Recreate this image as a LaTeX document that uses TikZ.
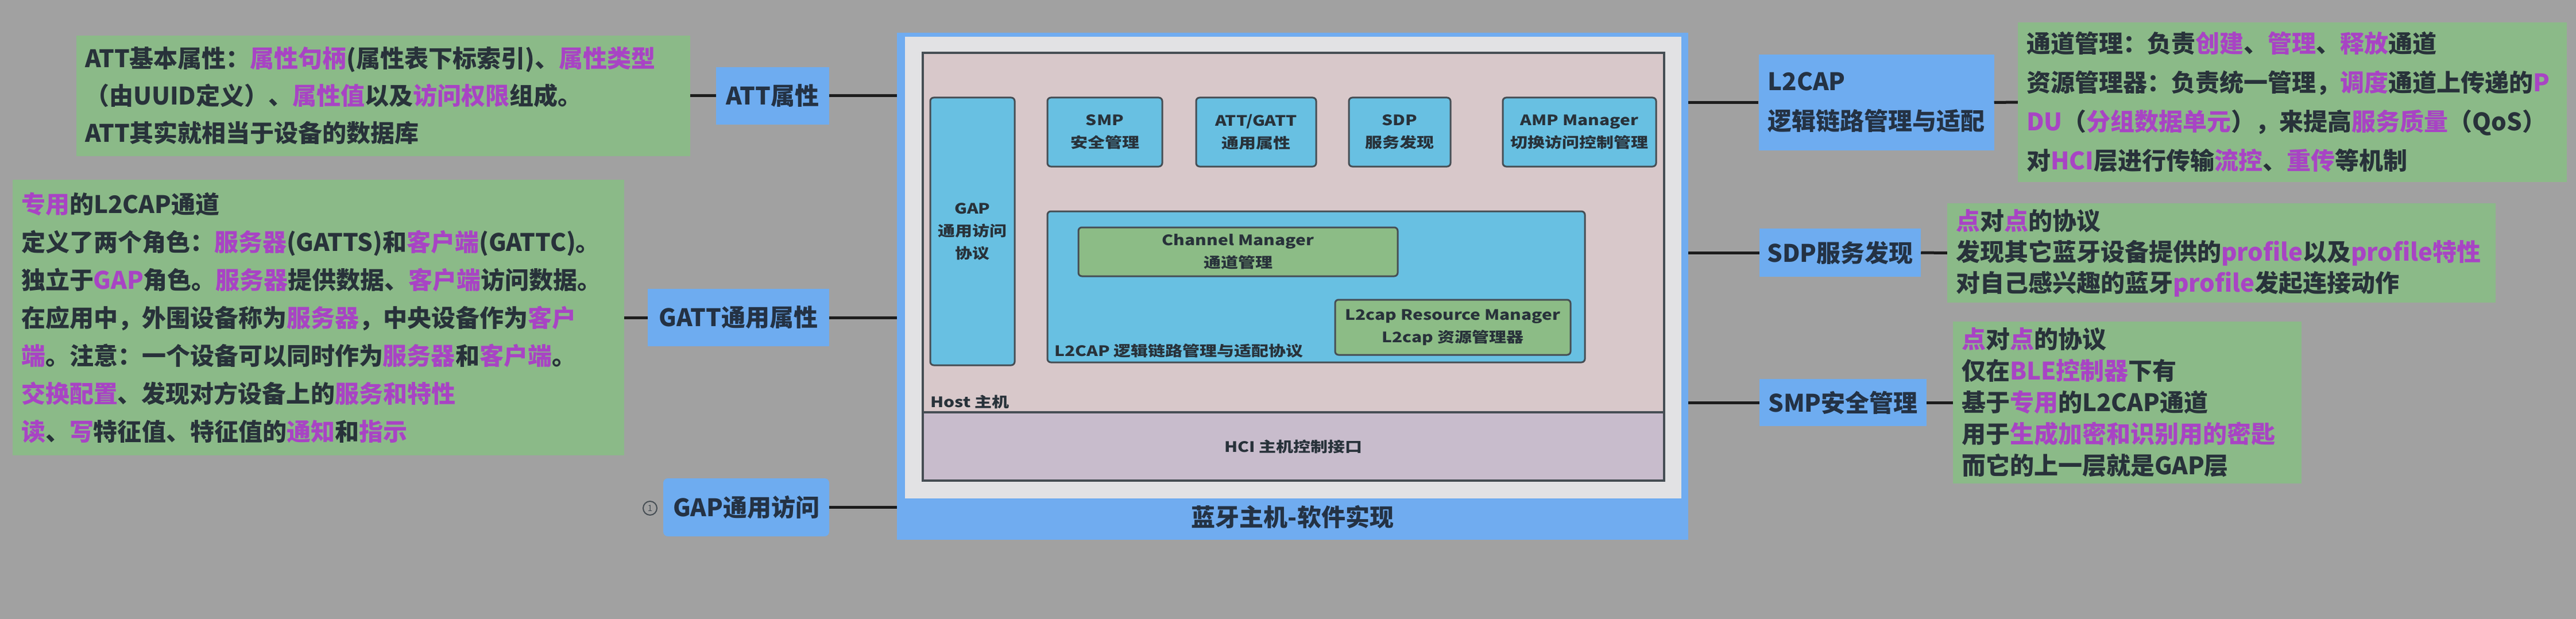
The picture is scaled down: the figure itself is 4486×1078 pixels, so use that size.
\documentclass[tikz,border=0pt]{standalone}
\usepackage{fontspec}
\setmainfont{Noto Sans CJK SC}
\newfontfamily\innerfont[FakeStretch=1.2]{Noto Sans CJK SC}
\definecolor{bgc}{RGB}{161,161,161}
\definecolor{notegreen}{RGB}{139,186,136}
\definecolor{lblblue}{RGB}{110,172,240}
\definecolor{hlc}{RGB}{168,68,196}
\definecolor{txtc}{RGB}{40,50,58}
\definecolor{lbltxt}{RGB}{36,50,68}
\definecolor{frameblue}{RGB}{112,172,240}
\definecolor{papergrey}{RGB}{226,226,228}
\definecolor{hostpink}{RGB}{216,200,202}
\definecolor{hcic}{RGB}{200,188,204}
\definecolor{blkblue}{RGB}{104,192,226}
\definecolor{ingreen}{RGB}{140,188,134}
\definecolor{edgec}{RGB}{70,78,84}
\definecolor{linec}{RGB}{28,28,28}
\newcommand{\purp}[1]{\textcolor{hlc}{#1}}
\begin{document}
\begin{tikzpicture}[x=1pt,y=-1pt,
  note/.style={fill=notegreen, draw=none, align=left, inner xsep=15pt, inner ysep=0pt, text=txtc},
  lbl/.style={fill=lblblue, draw=none, inner sep=0pt, align=center, text=lbltxt, font=\bfseries\fontsize{42}{50}\selectfont},
  blk/.style={fill=blkblue, draw=edgec, line width=3pt, rounded corners=6pt, inner sep=0pt, align=center, text=txtc, font=\innerfont\bfseries\fontsize{25}{39}\selectfont},
  gblk/.style={blk, fill=ingreen},
  intext/.style={inner sep=0pt, text=txtc, font=\innerfont\bfseries\fontsize{25}{39}\selectfont},
  link/.style={draw=linec, line width=5pt}]
\fill[bgc] (0,0) rectangle (4486,1078);
\useasboundingbox (0,0) rectangle (4486,1078);

% ---------- central frame ----------
\node[fill=frameblue, draw=none, inner sep=0pt, minimum width=1378pt, minimum height=883pt] (frame) at (2251,498.5) {};
\node[fill=papergrey, draw=none, inner sep=0pt, minimum width=1352pt, minimum height=804pt] (paper) at (2251.5,466) {};
\node[fill=hostpink, draw=edgec, line width=3.5pt, inner sep=0pt, minimum width=1291pt, minimum height=626pt] (host) at (2252.5,405) {};
\node[fill=hcic, draw=edgec, line width=3.5pt, inner sep=0pt, minimum width=1291pt, minimum height=119pt, text=txtc, font=\innerfont\bfseries\fontsize{25}{39}\selectfont] (hci) at (2252.5,777.5) {HCI 主机控制接口};
\node[blk, minimum width=147pt, minimum height=466pt] (gap) at (1693.5,403) {GAP\\通用访问\\协议};
\node[blk, minimum width=200pt, minimum height=120pt] (smp) at (1924,230) {SMP\\安全管理};
\node[blk, minimum width=209pt, minimum height=120pt] (attg) at (2187.5,230) {ATT/GATT\\通用属性};
\node[blk, minimum width=177pt, minimum height=120pt] (sdp) at (2437.5,230) {SDP\\服务发现};
\node[blk, minimum width=267pt, minimum height=120pt] (amp) at (2750.5,230) {AMP Manager\\切换访问控制管理};
\node[blk, minimum width=936pt, minimum height=263pt] (l2blk) at (2292,499.5) {};
\node[gblk, minimum width=556pt, minimum height=85pt] (chm) at (2156,438.5) {Channel Manager\\通道管理};
\node[gblk, minimum width=410pt, minimum height=96pt] (res) at (2530,570) {L2cap Resource Manager\\L2cap 资源管理器};
\node[intext, anchor=west] (l2txt) at (1836,611) {L2CAP 逻辑链路管理与适配协议};
\node[intext, anchor=west] (hosttxt) at (1620,700) {Host 主机};
\node[inner sep=0pt, text=lbltxt, font=\bfseries\fontsize{42}{50}\selectfont] (title) at (2251,900) {蓝牙主机-软件实现};

% ---------- left side ----------
\node[note, text width=1039pt, minimum height=210pt, font=\bfseries\fontsize{42}{65}\selectfont] (attnote) at (667.5,167) {ATT基本属性：\purp{属性句柄}(属性表下标索引)、\purp{属性类型}\\（由UUID定义）、\purp{属性值}以及\purp{访问权限}组成。\\ATT其实就相当于设备的数据库};
\node[lbl, minimum width=197pt, minimum height=100pt] (attlbl) at (1345.5,167) {ATT属性};

\node[note, text width=1035pt, minimum height=480pt, font=\bfseries\fontsize{42}{66}\selectfont] (gattnote) at (554.5,553) {\purp{专用}的L2CAP通道\\定义了两个角色：\purp{服务器}(GATTS)和\purp{客户端}(GATTC)。\\独立于\purp{GAP}角色。\purp{服务器}提供数据、\purp{客户端}访问数据。\\在应用中，外围设备称为\purp{服务器}，中央设备作为\purp{客户}\\\purp{端}。注意：一个设备可以同时作为\purp{服务器}和\purp{客户端}。\\\purp{交换配置}、发现对方设备上的\purp{服务和特性}\\\purp{读}、\purp{写}特征值、特征值的\purp{通知}和\purp{指示}};
\node[lbl, minimum width=316pt, minimum height=100pt] (gattlbl) at (1286,553) {GATT通用属性};

\node[lbl, rounded corners=8pt, minimum width=289pt, minimum height=101pt] (gaplbl) at (1299.5,883.5) {GAP通用访问};
\node[circle, draw=edgec, line width=2pt, inner sep=0pt, minimum size=24pt, text=edgec, font=\fontsize{15}{15}\selectfont] (gapnum) at (1132,885) {1};

% ---------- right side ----------
\node[lbl, align=left, inner xsep=16pt, text width=378pt, minimum height=167pt, font=\bfseries\fontsize{42}{69}\selectfont] (l2lbl) at (3267.5,178.5) {L2CAP\\逻辑链路管理与适配};
\node[note, text width=926pt, minimum height=278pt, font=\bfseries\fontsize{42}{68}\selectfont] (l2note) at (3992,178) {通道管理：负责\purp{创建}、\purp{管理}、\purp{释放}通道\\资源管理器：负责统一管理，\purp{调度}通道上传递的\purp{P}\\\purp{DU}（\purp{分组数据单元}），来提高\purp{服务质量}（QoS）\\对\purp{HCI}层进行传输\purp{流控}、\purp{重传}等机制};

\node[lbl, minimum width=281pt, minimum height=84pt] (sdplbl) at (3204.5,440) {SDP服务发现};
\node[note, text width=925pt, minimum height=173pt, font=\bfseries\fontsize{42}{54}\selectfont] (sdpnote) at (3868.5,440.5) {\purp{点}对\purp{点}的协议\\发现其它蓝牙设备提供的\purp{profile}以及\purp{profile特性}\\对自己感兴趣的蓝牙\purp{profile}发起连接动作};

\node[lbl, minimum width=291pt, minimum height=82pt] (smplbl) at (3209.5,701) {SMP安全管理};
\node[note, text width=577pt, minimum height=282pt, font=\bfseries\fontsize{42}{55}\selectfont] (smpnote) at (3704.5,701) {\purp{点}对\purp{点}的协议\\仅在\purp{BLE控制器}下有\\基于\purp{专用}的L2CAP通道\\用于\purp{生成加密和识别用的密匙}\\而它的上一层就是GAP层};

% ---------- connectors ----------
\draw[link] (attnote.east) -- (attlbl.west);
\draw[link] (attlbl.east) -- (attlbl.east -| frame.west);
\draw[link] (gattnote.east) -- (gattlbl.west);
\draw[link] (gattlbl.east) -- (gattlbl.east -| frame.west);
\draw[link] (gaplbl.east) -- (gaplbl.east -| frame.west);
\draw[link] (l2lbl.west -| frame.east) -- (l2lbl.west);
\draw[link] (l2lbl.east) -- (l2note.west);
\draw[link] (sdplbl.west -| frame.east) -- (sdplbl.west);
\draw[link] (sdplbl.east) -- (sdpnote.west);
\draw[link] (smplbl.west -| frame.east) -- (smplbl.west);
\draw[link] (smplbl.east) -- (smpnote.west);
\end{tikzpicture}
\end{document}
